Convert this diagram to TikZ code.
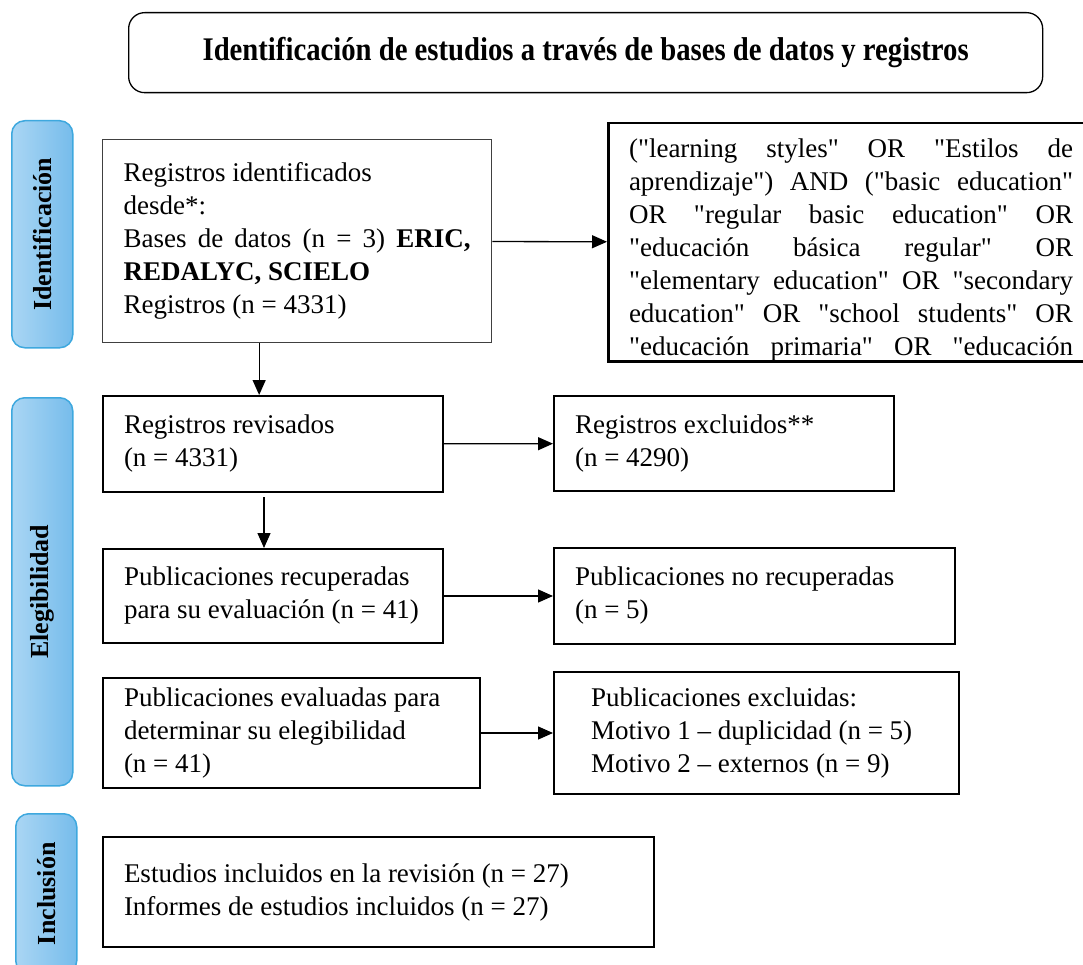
\documentclass[tikz,border=0pt]{standalone}
\usepackage{fontspec}
\setmainfont{Liberation Serif}[Ligatures=TeXOff]
\newfontfamily\titulofont{Liberation Serif}[FakeStretch=0.87,Ligatures=TeXOff]
\usetikzlibrary{arrows.meta}
\definecolor{fasea}{RGB}{170,214,244}
\definecolor{faseb}{RGB}{118,188,235}
\definecolor{faseborde}{RGB}{62,168,222}
\newcommand\renglon[1]{\makebox[444pt][s]{#1}}

\begin{document}
\begin{tikzpicture}[x=1pt,y=-1pt,
  caja/.style={draw,line width=2pt,anchor=north west,align=flush left,inner xsep=21pt,inner ysep=0pt,font=\fontsize{27}{33}\selectfont},
  titulo/.style={draw,line width=1.3pt,rounded corners=16pt,anchor=north west,font=\titulofont\bfseries\fontsize{33}{36}\selectfont},
  fase/.style={draw=faseborde,line width=1.5pt,rounded corners=13pt,left color=fasea,right color=faseb,anchor=north west,minimum width=61pt},
  etiqueta/.style={rotate=90,font=\bfseries\fontsize{26}{30}\selectfont},
  flecha/.style={-{Triangle[length=15pt,width=13pt]},line width=1.3pt}]
\useasboundingbox (0,0) rectangle (1083,965);

\node(titulo) at (128,12)[titulo,minimum width=914pt,minimum height=80pt] {Identificación de estudios a través de bases de datos y registros};

% fases
\node(idfase) at (11,120)[fase,minimum height=227pt] {};
\node(idtexto) at (idfase.center)[etiqueta] {Identificación};
\node(elfase) at (11,397)[fase,minimum height=388pt] {};
\node(eltexto) at (elfase.center)[etiqueta] {Elegibilidad};
\node(infase) at (15,813)[fase,minimum height=160pt] {};
\node(intexto) at (infase.center)[etiqueta] {Inclusión};

% cajas
\node(reg) at (102,139)[caja,line width=1.3pt,draw=black!75,minimum width=389pt,text width=347pt,minimum height=203pt]
  {Registros identificados\\desde*:\\\makebox[347pt][s]{Bases de datos (n = 3) \textbf{ERIC,}}\\\textbf{REDALYC, SCIELO}\\Registros (n = 4331)};
\node(busq) at (607,122)[caja,line width=2.5pt,minimum width=486pt,minimum height=238pt] {};
\node(busqtexto) at ([xshift=21pt,yshift=-16pt]busq.north west)[caja,draw=none,inner sep=0pt,text width=444pt]
  {\renglon{("learning styles" OR "Estilos de}\\
   \renglon{aprendizaje") AND ("basic education"}\\
   \renglon{OR "regular basic education" OR}\\
   \renglon{"educación básica regular" OR}\\
   \renglon{"elementary education" OR "secondary}\\
   \renglon{education" OR "school students" OR}\\
   \renglon{"educación primaria" OR "educación}};
\node(rev) at (102,395)[caja,minimum width=340pt,text width=298pt,minimum height=96pt] {Registros revisados\\(n = 4331)};
\node(excl) at (553,395)[caja,minimum width=340pt,text width=298pt,minimum height=95pt] {Registros excluidos**\\(n = 4290)};
\node(recup) at (102,548)[caja,minimum width=340pt,text width=298pt,minimum height=94pt] {Publicaciones recuperadas\\para su evaluación (n = 41)};
\node(norec) at (553,547)[caja,minimum width=401pt,text width=359pt,minimum height=96pt] {Publicaciones no recuperadas\\(n = 5)};
\node(eval) at (102,677)[caja,minimum width=377pt,text width=335pt,minimum height=110pt] {Publicaciones evaluadas para\\determinar su elegibilidad\\(n = 41)};
\node(pexcl) at (553,671)[caja,inner xsep=37pt,minimum width=405pt,text width=331pt,minimum height=122pt] {Publicaciones excluidas:\\Motivo 1 – duplicidad (n = 5)\\Motivo 2 – externos (n = 9)};
\node(incl) at (102,836)[caja,minimum width=551pt,text width=509pt,minimum height=110pt] {Estudios incluidos en la revisión (n = 27)\\Informes de estudios incluidos (n = 27)};

\path [flecha]
  (reg)    edge  (busq)
  (rev)    edge  (excl)
  (recup)  edge  (norec)
  (eval)   edge  (pexcl);
\draw[flecha] ([xshift=-38pt]reg.south) -- ([xshift=-38pt]reg.south |- rev.north);
\draw[flecha,shorten <=4pt] ([xshift=-9pt]rev.south) -- ([xshift=-9pt]rev.south |- recup.north);
\end{tikzpicture}
\end{document}
